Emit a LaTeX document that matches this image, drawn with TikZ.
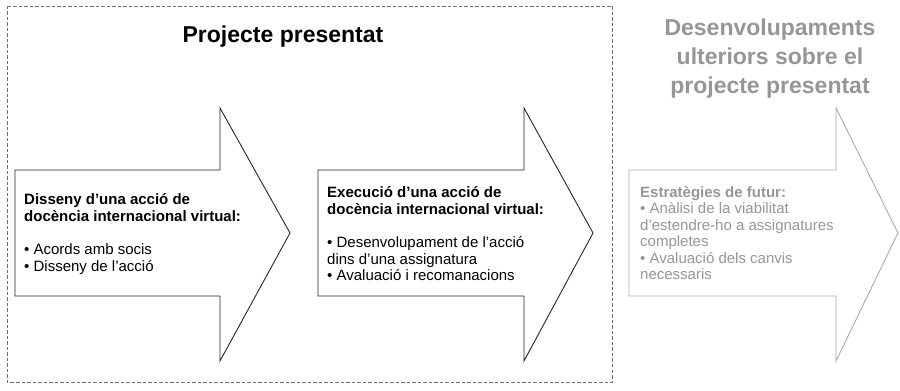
\documentclass[tikz,border=0pt]{standalone}
\usepackage{fontspec}
\setmainfont{Liberation Sans}
\usetikzlibrary{arrows}

\definecolor{grisvora}{RGB}{110,110,110}
\definecolor{grisfletxa}{RGB}{170,170,170}
\definecolor{gristext}{RGB}{150,150,150}

\begin{document}
\begin{tikzpicture}[line cap=round,line join=miter,x=1pt,y=1pt,
    fletxa/.style={line width=0.9pt,color=black!85},
    cos/.style={anchor=west,align=left,inner sep=0pt,font=\fontsize{15}{16.5}\selectfont},
    titol/.style={align=center,inner sep=0pt,font=\bfseries\fontsize{23}{29}\selectfont}]
        \clip(0,0) rectangle (900,391);
        \draw [color=grisvora,line width=0.8pt,line cap=butt,dash pattern=on 3.5pt off 2pt] (7,385) rectangle (612,9);
        \draw [fletxa] (15,221)-- (220,221)-- (220,283)-- (290,158)-- (220,30)-- (220,95)-- (15,95)-- cycle;
        \draw [fletxa] (318,221)-- (524,221)-- (524,283)-- (593,158)-- (524,30)-- (524,95)-- (318,95)-- cycle;
        \draw [fletxa,color=grisfletxa] (629,221)-- (836,221)-- (836,283)-- (898,158)-- (836,30)-- (836,95)-- (629,95)-- cycle;
        \draw (283,354) node[titol] (projecte) {Projecte presentat};
        \draw (770,332) node[titol,text=gristext] (ulteriors) {Desenvolupaments\\ulteriors sobre el\\projecte presentat};
        \draw (24,157) node[cos] (disseny) {\textbf{Disseny d’una acció de}\\\textbf{docència internacional virtual:}\\[17pt]%
            • Acords amb socis\\• Disseny de l’acció};
        \draw (327,157) node[cos] (execucio) {\textbf{Execució d’una acció de}\\\textbf{docència internacional virtual:}\\[17pt]%
            • Desenvolupament de l’acció\\dins d’una assignatura\\• Avaluació i recomanacions};
        \draw (640,158) node[cos,text=gristext] (futur) {\textbf{Estratègies de futur:}\\• Anàlisi de la viabilitat\\d’estendre-ho a assignatures\\completes\\• Avaluació dels canvis\\necessaris};
    \end{tikzpicture}
\end{document}
